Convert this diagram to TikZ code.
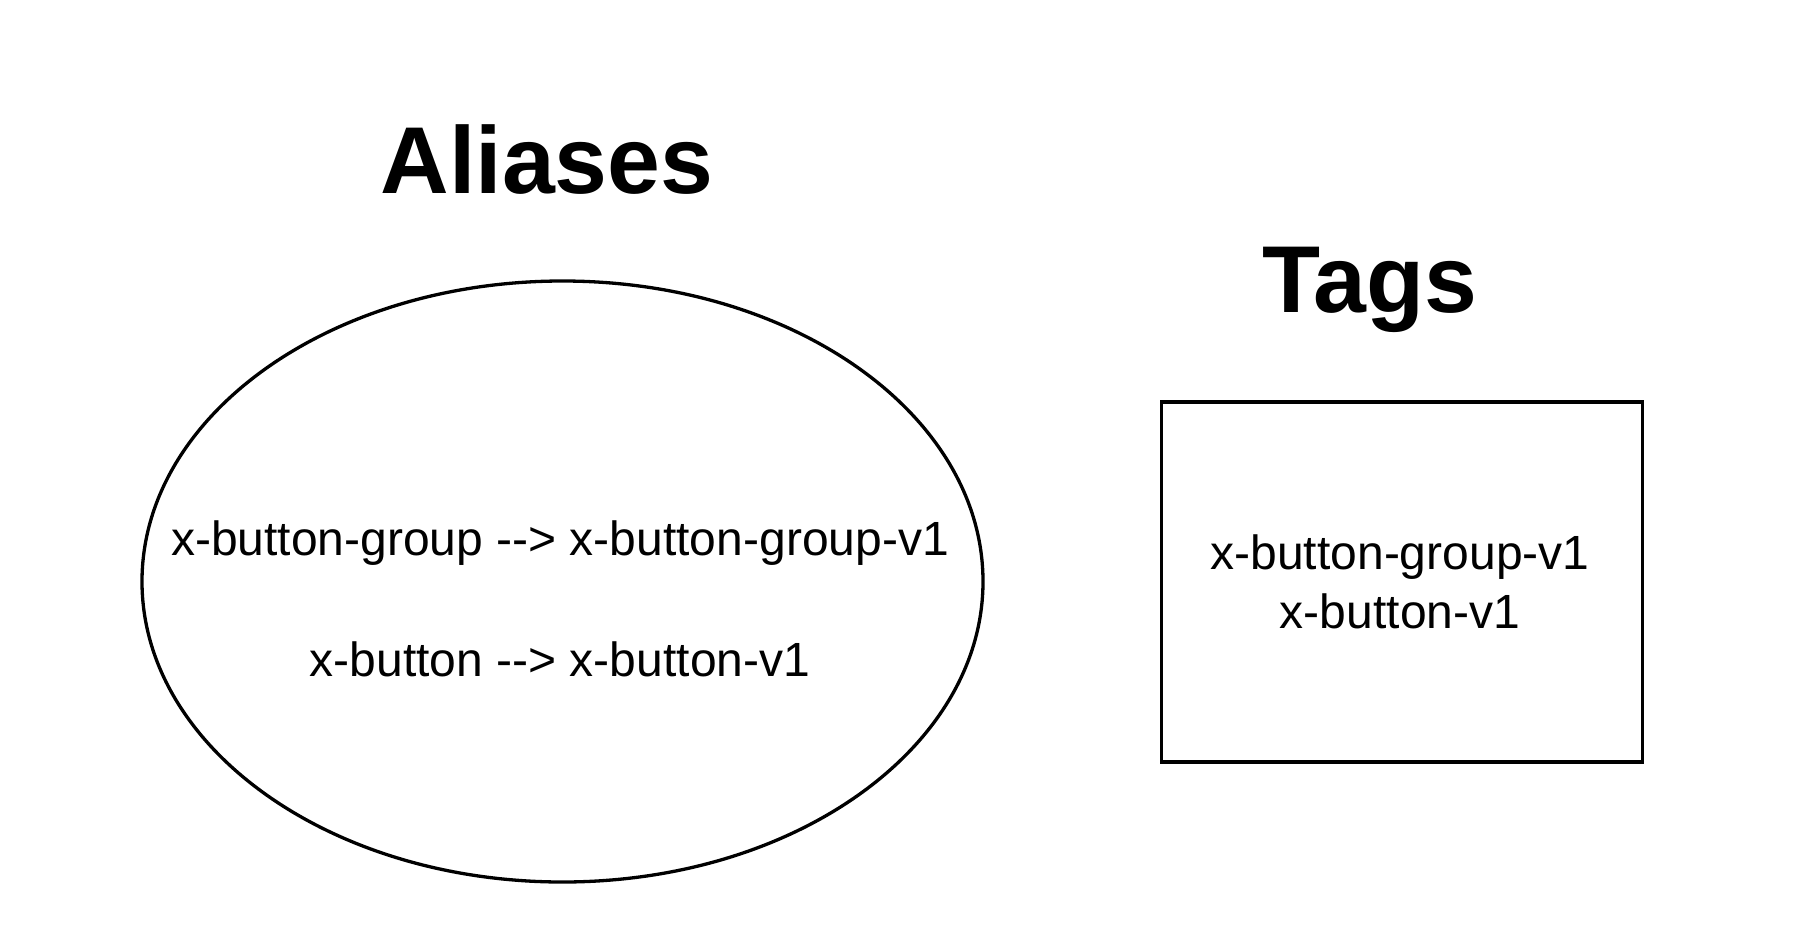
\documentclass[tikz,border=0pt]{standalone}
\usepackage{fontspec}
\setmainfont{Liberation Sans}
\usetikzlibrary{shapes.geometric}
\begin{document}
\begin{tikzpicture}[x=1pt,y=-1pt,
  shapeline/.style={draw=black,line width=3.3pt},
  bodytext/.style={font=\fontsize{48}{59}\selectfont,anchor=base,inner sep=0pt},
  titletext/.style={font=\fontsize{95}{110}\selectfont\bfseries,anchor=base,inner sep=0pt}]
\useasboundingbox (0,0) rectangle (1804,924);
\fill[white] (0,0) rectangle (1804,924);
\node[shapeline,ellipse,minimum width=841pt,minimum height=601pt,inner sep=0pt] (aliasesell) at (562.5,581.5) {};
\node[shapeline,rectangle,minimum width=481pt,minimum height=360pt,inner sep=0pt] (tagsbox) at (1402,582) {};
\node[titletext] (aliasestitle) at (547,193) {Aliases};
\node[titletext] (tagstitle) at (1370,312) {Tags};
\node[bodytext] (alias1) at (560,555.5) {x-button-group -{}-> x-button-group-v1};
\node[bodytext] (alias2) at (560,676.5) {x-button -{}-> x-button-v1};
\node[bodytext] (tag1) at (1400,569) {x-button-group-v1};
\node[bodytext] (tag2) at (1400,628) {x-button-v1};
\end{tikzpicture}
\end{document}
